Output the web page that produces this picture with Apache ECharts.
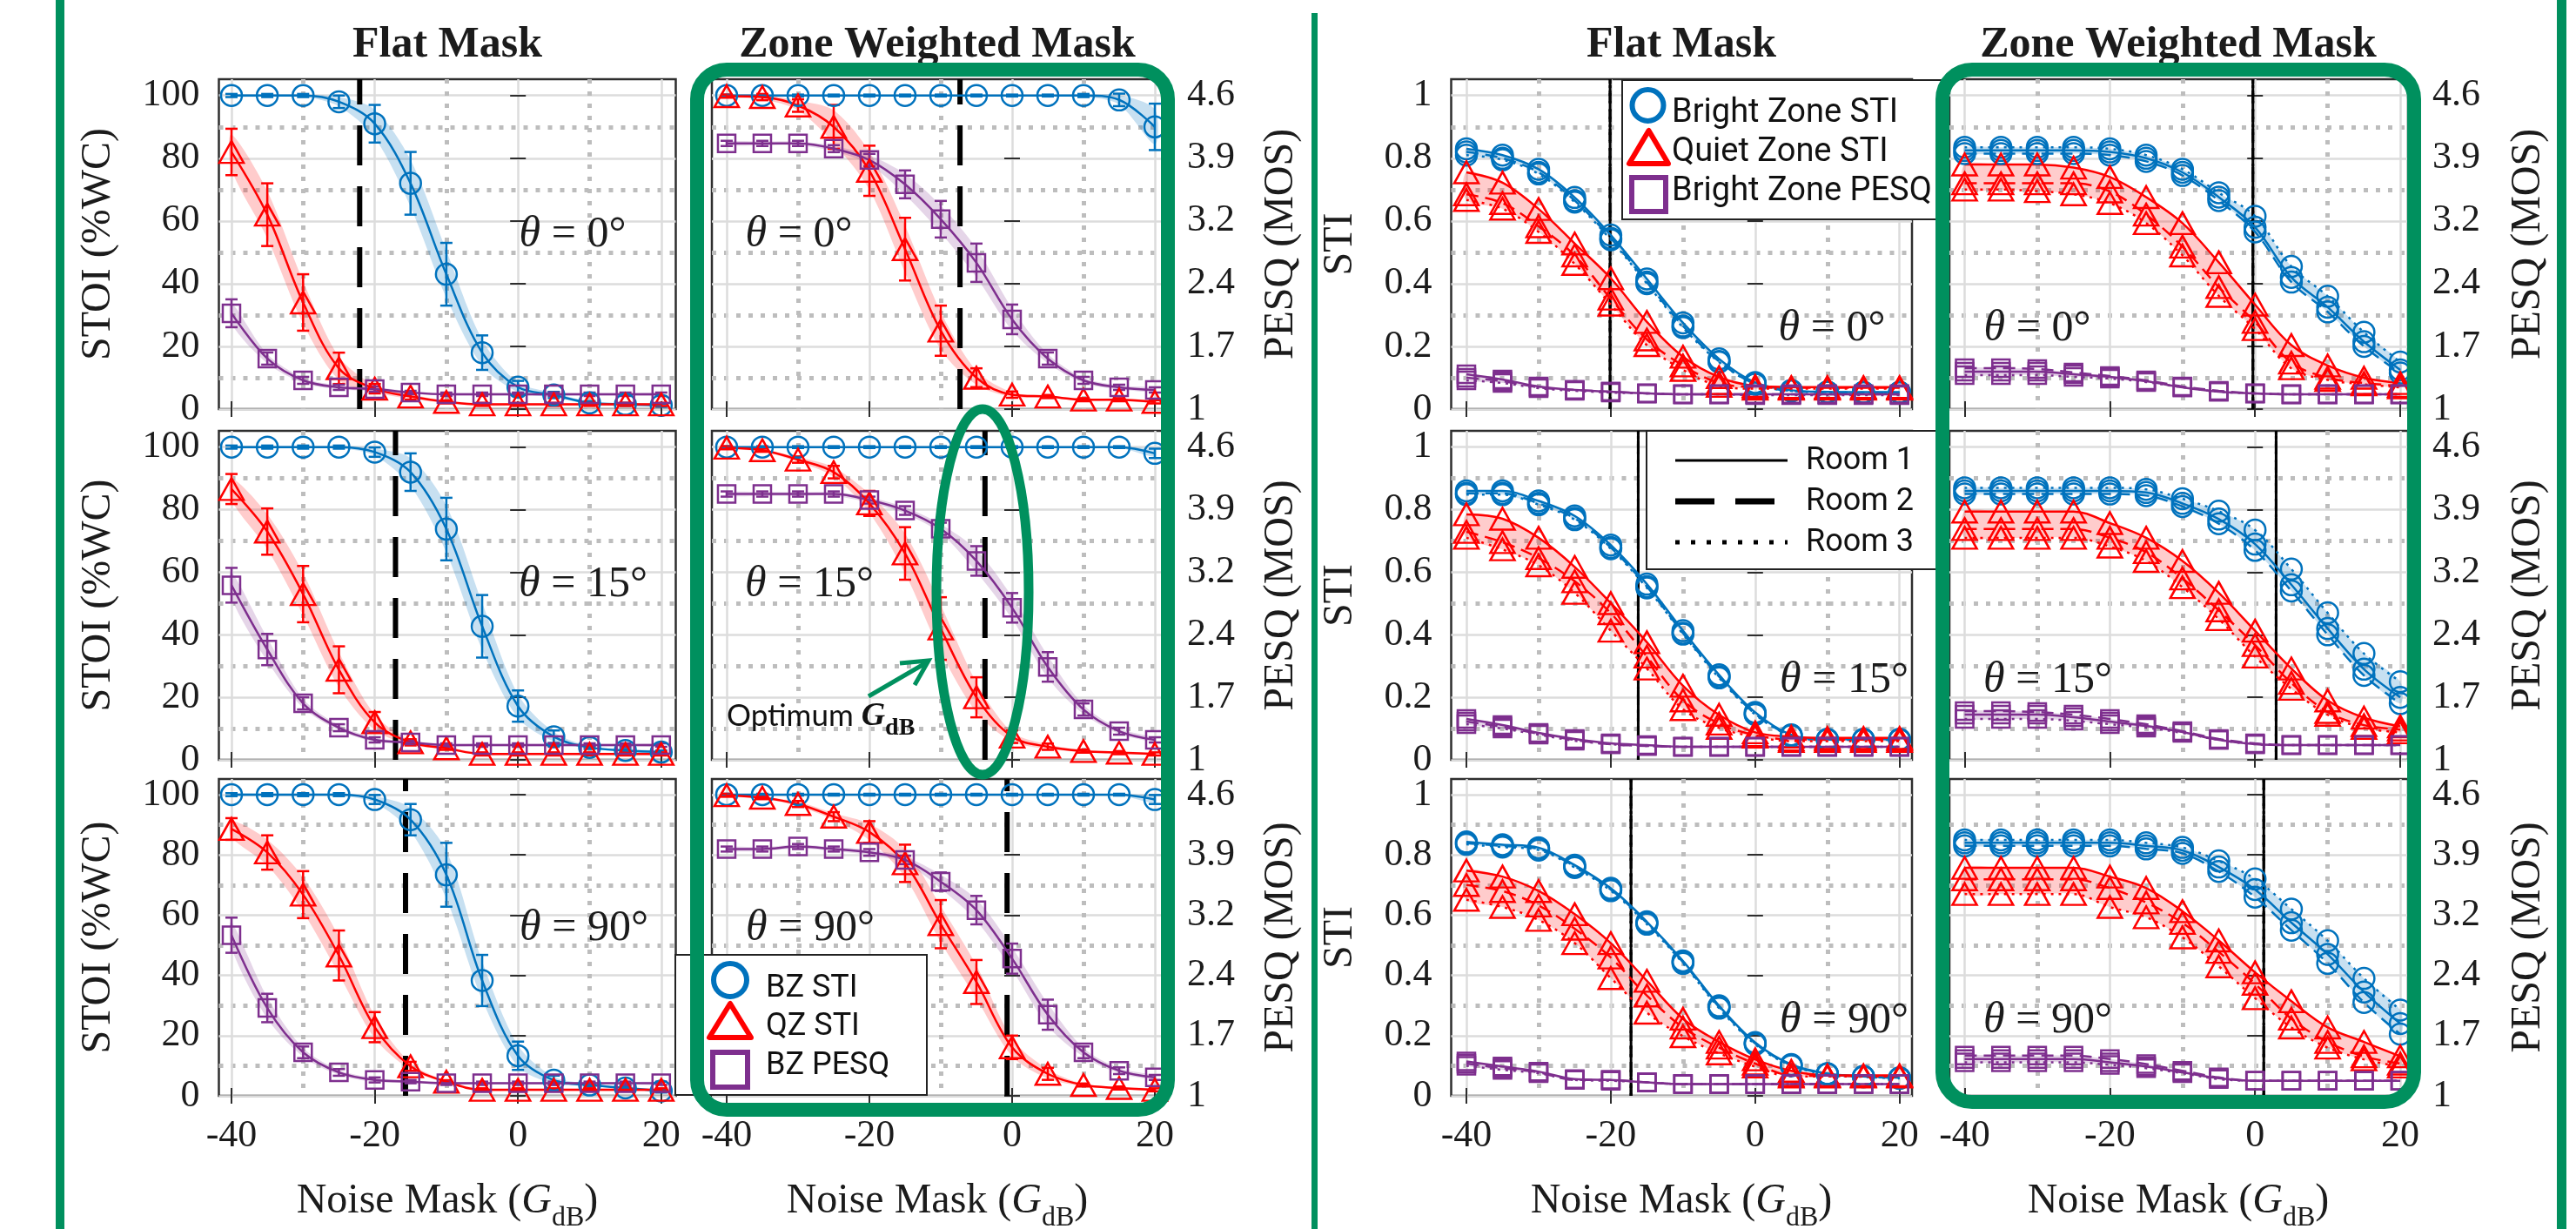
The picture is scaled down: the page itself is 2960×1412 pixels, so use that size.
<!DOCTYPE html>
<html>
<head>
<meta charset="utf-8">
<script src="https://cdn.jsdelivr.net/npm/echarts@6/dist/echarts.min.js"></script>
<style>
html, body { margin: 0; padding: 0; background: #fff; }
#chart { width: 2960px; height: 1412px; }
</style>
</head>
<body>
<div id="chart"></div>
<script>
// noise mask levels (dB) shared by every panel
var gdb = [-40, -35, -30, -25, -20, -15, -10, -5, 0, 5, 10, 15, 20];
var thetas = ['0°', '15°', '90°'];
var xTicks = [-40, -20, 0, 20], xMinor = [-30, -10, 10];
var stoiTicks = [0, 20, 40, 60, 80, 100], stoiMinor = [10, 30, 50, 70, 90];
var stiTicks = [0, 0.2, 0.4, 0.6, 0.8, 1], stiMinor = [0.1, 0.3, 0.5, 0.7, 0.9];
var pesqTicks = [1, 1.72, 2.44, 3.16, 3.88, 4.6];

// ---- left figure: STOI (%WC) and PESQ (MOS), mean and error half-width ----
var stoiFlat0Bz = [100, 100, 100, 98, 91, 72, 43, 18, 7, 4.5, 2, 1.5, 1.2];
var stoiFlat0BzErr = [0.5, 0.5, 0.5, 2, 6, 10, 10, 5.5, 2, 1, 0.5, 0.5, 0.5];
var stoiFlat0Qz = [82, 62, 34, 13, 6.5, 4, 2.3, 1.5, 1.5, 1.5, 1.5, 1.5, 1.5];
var stoiFlat0QzErr = [7.4, 10, 9, 5, 1.5, 1, 0.5, 0.5, 0.5, 0.5, 0.5, 0.5, 0.5];
var stoiFlat0Pesq = [2.10, 1.58, 1.33, 1.25, 1.23, 1.19, 1.17, 1.17, 1.17, 1.17, 1.17, 1.17, 1.17];
var stoiFlat0PesqErr = [0.16, 0.07, 0.04, 0.03, 0.03, 0.02, 0.02, 0.02, 0.02, 0.02, 0.02, 0.02, 0.02];

var stoiZone0Bz = [100, 100, 100, 100, 100, 100, 100, 100, 100, 100, 100, 98.6, 90];
var stoiZone0BzErr = [0.3, 0.3, 0.3, 0.3, 0.3, 0.3, 0.3, 0.3, 0.3, 0.3, 0.5, 2, 7.4];
var stoiZone0Qz = [99.8, 99.5, 96.8, 90, 76, 51, 25, 10, 4.6, 4, 3, 3, 2.3];
var stoiZone0QzErr = [0.5, 1, 2, 7, 8, 10, 8, 3, 1, 0.5, 0.5, 0.5, 0.5];
var stoiZone0Pesq = [4.05, 4.05, 4.05, 3.99, 3.86, 3.58, 3.18, 2.68, 2.03, 1.58, 1.33, 1.25, 1.22];
var stoiZone0PesqErr = [0.03, 0.03, 0.03, 0.04, 0.07, 0.16, 0.21, 0.22, 0.17, 0.07, 0.04, 0.03, 0.03];

var stoiFlat15Bz = [100, 100, 100, 100, 98.4, 92, 73.8, 42.7, 17.2, 7.4, 4, 3, 2.5];
var stoiFlat15BzErr = [0.5, 0.5, 0.5, 0.5, 1.5, 6, 10, 10, 5, 2, 0.5, 0.5, 0.5];
var stoiFlat15Qz = [86.6, 73, 53, 28.8, 12, 5.6, 3.7, 1.9, 1.9, 1.9, 1.9, 1.9, 1.9];
var stoiFlat15QzErr = [4.8, 7.4, 9, 7.5, 3.3, 1, 0.5, 0.5, 0.5, 0.5, 0.5, 0.5, 0.5];
var stoiFlat15Pesq = [3.01, 2.27, 1.65, 1.37, 1.23, 1.20, 1.17, 1.17, 1.17, 1.17, 1.17, 1.17, 1.17];
var stoiFlat15PesqErr = [0.2, 0.18, 0.07, 0.04, 0.03, 0.02, 0.02, 0.02, 0.02, 0.02, 0.02, 0.02, 0.02];

var stoiZone15Bz = [100, 100, 100, 100, 100, 100, 100, 100, 100, 100, 100, 100, 98];
var stoiZone15BzErr = [0.3, 0.3, 0.3, 0.3, 0.3, 0.3, 0.3, 0.3, 0.3, 0.3, 0.3, 0.3, 1.5];
var stoiZone15Qz = [99.8, 99, 96, 92, 82, 66, 42, 20, 7.4, 4.2, 2.8, 2.3, 1.9];
var stoiZone15QzErr = [0.5, 0.5, 1, 2, 4, 8.4, 10, 6.4, 2, 1, 0.5, 0.5, 0.5];
var stoiZone15Pesq = [4.06, 4.06, 4.06, 4.06, 3.99, 3.87, 3.66, 3.29, 2.75, 2.07, 1.58, 1.33, 1.23];
var stoiZone15PesqErr = [0.03, 0.03, 0.03, 0.03, 0.04, 0.05, 0.07, 0.17, 0.17, 0.17, 0.07, 0.04, 0.03];

var stoiFlat90Bz = [100, 100, 100, 100, 98.4, 91.7, 73.4, 38.3, 13.3, 5.2, 3.6, 2.6, 1.6];
var stoiFlat90BzErr = [0.5, 0.5, 0.5, 0.5, 1.5, 5.2, 10.6, 8.5, 4.7, 1.5, 0.5, 0.5, 0.5];
var stoiFlat90Qz = [88.6, 80.8, 66.8, 46.6, 22.8, 9.8, 4.7, 2, 2, 2, 2, 2, 2];
var stoiFlat90QzErr = [3.6, 5.7, 7.8, 8.3, 5, 1.5, 0.5, 0.5, 0.5, 0.5, 0.5, 0.5, 0.5];
var stoiFlat90Pesq = [2.92, 2.05, 1.52, 1.28, 1.19, 1.17, 1.15, 1.15, 1.15, 1.15, 1.15, 1.15, 1.15];
var stoiFlat90PesqErr = [0.21, 0.17, 0.07, 0.04, 0.03, 0.02, 0.02, 0.02, 0.02, 0.02, 0.02, 0.02, 0.02];

var stoiZone90Bz = [100, 100, 100, 100, 100, 100, 100, 100, 100, 100, 100, 100, 98.4];
var stoiZone90BzErr = [0.3, 0.3, 0.3, 0.3, 0.3, 0.3, 0.3, 0.3, 0.3, 0.3, 0.3, 0.3, 1.5];
var stoiZone90Qz = [99.8, 99, 96.9, 92.7, 87.6, 77.2, 57, 37.8, 16.1, 7.3, 3.6, 2.6, 2];
var stoiZone90QzErr = [0.5, 0.5, 1, 1.5, 3.6, 6.2, 8, 7.3, 3.9, 2, 0.5, 0.5, 0.5];
var stoiZone90Pesq = [3.95, 3.95, 3.98, 3.95, 3.91, 3.82, 3.56, 3.22, 2.64, 1.97, 1.52, 1.30, 1.22];
var stoiZone90PesqErr = [0.03, 0.03, 0.03, 0.03, 0.04, 0.05, 0.11, 0.17, 0.18, 0.18, 0.07, 0.04, 0.03];

var stoiFlatOpt = [-22.1, -17.1, -15.7];
var stoiZoneOpt = [-7.3, -3.8, -0.7];

// ---- right figure: STI and PESQ for rooms 1, 2, 3 ----
var stiFlat0Bz = [
  [0.83, 0.81, 0.765, 0.675, 0.555, 0.415, 0.275, 0.16, 0.085, 0.06, 0.055, 0.054, 0.054],
  [0.82, 0.80, 0.755, 0.665, 0.545, 0.405, 0.265, 0.152, 0.08, 0.058, 0.054, 0.053, 0.053],
  [0.81, 0.795, 0.75, 0.66, 0.54, 0.40, 0.26, 0.15, 0.08, 0.058, 0.054, 0.053, 0.053]];
var stiFlat0Qz = [
  [0.755, 0.722, 0.638, 0.528, 0.417, 0.278, 0.167, 0.102, 0.074, 0.07, 0.07, 0.07, 0.07],
  [0.685, 0.657, 0.583, 0.49, 0.352, 0.222, 0.139, 0.083, 0.07, 0.068, 0.068, 0.068, 0.068],
  [0.667, 0.639, 0.565, 0.463, 0.333, 0.204, 0.125, 0.074, 0.065, 0.065, 0.065, 0.065, 0.065]];
var stiFlat0Pesq = [
  [1.40, 1.34, 1.26, 1.22, 1.20, 1.18, 1.17, 1.17, 1.17, 1.17, 1.17, 1.17, 1.17],
  [1.36, 1.32, 1.25, 1.22, 1.20, 1.18, 1.17, 1.17, 1.17, 1.17, 1.17, 1.17, 1.17],
  [1.33, 1.30, 1.24, 1.21, 1.19, 1.18, 1.17, 1.17, 1.16, 1.16, 1.16, 1.16, 1.16]];

var stiZone0Bz = [
  [0.825, 0.825, 0.825, 0.825, 0.82, 0.80, 0.755, 0.676, 0.58, 0.42, 0.325, 0.215, 0.125],
  [0.815, 0.815, 0.815, 0.815, 0.81, 0.79, 0.745, 0.665, 0.565, 0.405, 0.31, 0.2, 0.115],
  [0.835, 0.835, 0.835, 0.835, 0.83, 0.81, 0.765, 0.69, 0.615, 0.455, 0.36, 0.245, 0.15]];
var stiZone0Qz = [
  [0.78, 0.78, 0.78, 0.77, 0.74, 0.676, 0.593, 0.468, 0.333, 0.204, 0.139, 0.10, 0.083],
  [0.72, 0.72, 0.72, 0.72, 0.694, 0.62, 0.518, 0.389, 0.278, 0.148, 0.10, 0.083, 0.074],
  [0.70, 0.70, 0.695, 0.685, 0.657, 0.593, 0.49, 0.361, 0.255, 0.13, 0.093, 0.079, 0.069]];
var stiZone0Pesq = [
  [1.43, 1.43, 1.43, 1.40, 1.37, 1.32, 1.25, 1.20, 1.18, 1.17, 1.17, 1.17, 1.17],
  [1.47, 1.47, 1.46, 1.42, 1.38, 1.33, 1.26, 1.21, 1.18, 1.17, 1.17, 1.17, 1.17],
  [1.39, 1.39, 1.39, 1.37, 1.35, 1.31, 1.25, 1.20, 1.18, 1.17, 1.17, 1.17, 1.17]];

var stiFlat15Bz = [
  [0.86, 0.86, 0.828, 0.78, 0.687, 0.562, 0.413, 0.272, 0.152, 0.08, 0.066, 0.066, 0.066],
  [0.852, 0.852, 0.82, 0.772, 0.679, 0.554, 0.405, 0.266, 0.147, 0.078, 0.065, 0.065, 0.065],
  [0.848, 0.848, 0.816, 0.768, 0.675, 0.55, 0.402, 0.262, 0.145, 0.077, 0.064, 0.064, 0.064]];
var stiFlat15Qz = [
  [0.785, 0.771, 0.71, 0.617, 0.501, 0.376, 0.237, 0.144, 0.088, 0.074, 0.07, 0.07, 0.07],
  [0.729, 0.696, 0.645, 0.571, 0.469, 0.33, 0.19, 0.116, 0.079, 0.065, 0.065, 0.065, 0.065],
  [0.71, 0.673, 0.622, 0.534, 0.413, 0.292, 0.162, 0.102, 0.074, 0.06, 0.06, 0.06, 0.06]];
var stiFlat15Pesq = [
  [1.47, 1.40, 1.31, 1.24, 1.19, 1.17, 1.15, 1.15, 1.15, 1.15, 1.15, 1.15, 1.15],
  [1.44, 1.38, 1.30, 1.23, 1.18, 1.16, 1.15, 1.15, 1.15, 1.15, 1.15, 1.15, 1.15],
  [1.41, 1.36, 1.29, 1.22, 1.18, 1.16, 1.15, 1.15, 1.15, 1.15, 1.15, 1.15, 1.15]];

var stiZone15Bz = [
  [0.86, 0.86, 0.86, 0.86, 0.86, 0.855, 0.82, 0.77, 0.69, 0.56, 0.42, 0.29, 0.20],
  [0.85, 0.85, 0.85, 0.85, 0.85, 0.845, 0.81, 0.755, 0.67, 0.54, 0.40, 0.27, 0.18],
  [0.87, 0.87, 0.87, 0.87, 0.87, 0.865, 0.835, 0.795, 0.735, 0.61, 0.47, 0.34, 0.25]];
var stiZone15Qz = [
  [0.794, 0.794, 0.794, 0.794, 0.757, 0.71, 0.636, 0.534, 0.413, 0.292, 0.19, 0.135, 0.107],
  [0.738, 0.738, 0.738, 0.738, 0.71, 0.664, 0.58, 0.478, 0.367, 0.246, 0.153, 0.111, 0.097],
  [0.71, 0.71, 0.71, 0.71, 0.682, 0.636, 0.552, 0.45, 0.33, 0.227, 0.144, 0.102, 0.088]];
var stiZone15Pesq = [
  [1.52, 1.52, 1.52, 1.49, 1.44, 1.39, 1.32, 1.23, 1.18, 1.17, 1.17, 1.17, 1.17],
  [1.56, 1.56, 1.55, 1.52, 1.47, 1.41, 1.33, 1.24, 1.19, 1.17, 1.17, 1.17, 1.17],
  [1.47, 1.47, 1.47, 1.45, 1.41, 1.37, 1.31, 1.23, 1.18, 1.17, 1.17, 1.17, 1.17]];

var stiFlat90Bz = [
  [0.843, 0.834, 0.824, 0.766, 0.689, 0.578, 0.448, 0.299, 0.177, 0.104, 0.074, 0.065, 0.06],
  [0.839, 0.83, 0.82, 0.762, 0.685, 0.574, 0.444, 0.295, 0.174, 0.102, 0.073, 0.064, 0.059],
  [0.835, 0.826, 0.816, 0.758, 0.681, 0.57, 0.44, 0.291, 0.171, 0.1, 0.072, 0.063, 0.058]];
var stiFlat90Qz = [
  [0.748, 0.728, 0.68, 0.603, 0.507, 0.382, 0.256, 0.179, 0.121, 0.083, 0.068, 0.068, 0.068],
  [0.70, 0.68, 0.632, 0.555, 0.459, 0.333, 0.227, 0.16, 0.107, 0.068, 0.066, 0.066, 0.066],
  [0.651, 0.627, 0.584, 0.507, 0.391, 0.276, 0.198, 0.141, 0.097, 0.064, 0.064, 0.064, 0.064]];
var stiFlat90Pesq = [
  [1.41, 1.35, 1.29, 1.20, 1.19, 1.16, 1.14, 1.14, 1.14, 1.14, 1.14, 1.14, 1.14],
  [1.385, 1.33, 1.28, 1.19, 1.19, 1.16, 1.14, 1.14, 1.14, 1.14, 1.14, 1.14, 1.14],
  [1.36, 1.31, 1.27, 1.19, 1.18, 1.16, 1.14, 1.14, 1.14, 1.14, 1.14, 1.14, 1.14]];

var stiZone90Bz = [
  [0.84, 0.84, 0.84, 0.84, 0.84, 0.83, 0.815, 0.76, 0.685, 0.575, 0.47, 0.345, 0.24],
  [0.83, 0.83, 0.83, 0.83, 0.83, 0.82, 0.805, 0.745, 0.66, 0.55, 0.44, 0.31, 0.205],
  [0.85, 0.85, 0.85, 0.85, 0.85, 0.84, 0.825, 0.78, 0.72, 0.62, 0.515, 0.39, 0.285]];
var stiZone90Qz = [
  [0.757, 0.757, 0.757, 0.757, 0.728, 0.69, 0.613, 0.516, 0.41, 0.314, 0.227, 0.179, 0.131],
  [0.719, 0.719, 0.719, 0.719, 0.69, 0.642, 0.574, 0.478, 0.372, 0.256, 0.179, 0.131, 0.107],
  [0.67, 0.67, 0.67, 0.67, 0.627, 0.593, 0.526, 0.43, 0.324, 0.227, 0.16, 0.121, 0.097]];
var stiZone90Pesq = [
  [1.44, 1.44, 1.44, 1.44, 1.40, 1.35, 1.28, 1.21, 1.18, 1.18, 1.18, 1.18, 1.18],
  [1.48, 1.48, 1.48, 1.48, 1.44, 1.38, 1.30, 1.22, 1.18, 1.18, 1.18, 1.18, 1.18],
  [1.40, 1.40, 1.40, 1.40, 1.37, 1.33, 1.27, 1.20, 1.18, 1.18, 1.18, 1.18, 1.18]];

var stiFlatOpt = [-20.1, -16.2, -17.2];
var stiZoneOpt = [-0.3, 2.9, 1.2];

// ---- styling / layout ----
var blue = '#0072BD', red = '#FF0000', purple = '#7E2F8E', green = '#00905e';
var blueBand = 'rgba(0,114,189,0.22)', redBand = 'rgba(255,0,0,0.2)', purpleBand = 'rgba(126,47,142,0.2)';
var ink = '#1b1b1b', frame = '#2e2e2e';
var serif = 'Liberation Serif', sans = 'Roboto';
var majorLine = { color: '#dcdcdc', width: 2.5 };
var minorLine = { color: '#bdbdbd', width: 5, type: [5, 9] };
var rowBox = [[91, 379], [495, 378], [895, 364]];
// left, width, x min, x max
var colBox = [[251.5, 525, -41.76, 22.03], [818, 518, -42.07, 21.1],
              [1667.5, 529.5, -42.11, 21.72], [2240, 527, -42.1, 21.07]];
var roomDash = ['solid', [14, 8], [3, 6]];

var option = { animation: false, backgroundColor: '#fff', grid: [], xAxis: [], yAxis: [], series: [], graphic: [] };

function tickCfg(vals, show) {
  return { show: show !== false, inside: true, length: 9, customValues: vals, lineStyle: { color: frame, width: 2 } };
}
function fmtPesq(v) { return v === 1 ? '1' : v.toFixed(1); }

function addPanel(r, c, stoi) {
  var g = option.grid.length, cb = colBox[c], rb = rowBox[r];
  option.grid.push({ left: cb[0], top: rb[0], width: cb[1], height: rb[1], show: true,
    borderColor: frame, borderWidth: 2.5, backgroundColor: 'transparent' });
  var xi = option.xAxis.length;
  var xb = { gridIndex: g, type: 'value', min: cb[2], max: cb[3], axisLine: { show: false } };
  option.xAxis.push(Object.assign({}, xb, { position: 'bottom', axisTick: tickCfg(xTicks),
    axisLabel: { show: r === 2, customValues: xTicks, fontFamily: serif, fontSize: 44, color: ink, margin: 24 },
    splitLine: { show: true, lineStyle: majorLine } }));
  option.xAxis.push(Object.assign({}, xb, { position: 'top', axisTick: tickCfg(xTicks),
    axisLabel: { show: false }, splitLine: { show: false } }));
  option.xAxis.push(Object.assign({}, xb, { position: 'bottom', axisTick: tickCfg(xMinor, false),
    axisLabel: { show: false }, splitLine: { show: true, lineStyle: minorLine } }));
  var yi = option.yAxis.length;
  var ticks = stoi ? stoiTicks : stiTicks, minor = stoi ? stoiMinor : stiMinor;
  var ymax = stoi ? 105.2 : 1.052;
  var firstCol = (c === 0 || c === 2);
  option.yAxis.push({ gridIndex: g, type: 'value', position: 'left', min: 0, max: ymax,
    axisLine: { show: false }, axisTick: tickCfg(ticks),
    axisLabel: { show: firstCol, customValues: ticks, fontFamily: serif, fontSize: 44, color: ink, margin: 22 },
    splitLine: { show: true, lineStyle: majorLine } });
  option.yAxis.push({ gridIndex: g, type: 'value', position: 'right', min: 1,
    max: 1 + 3.6 * (stoi ? ymax / 100 : ymax),
    axisLine: { show: false }, axisTick: tickCfg(pesqTicks),
    axisLabel: { show: !firstCol, customValues: pesqTicks, formatter: fmtPesq, fontFamily: serif, fontSize: 44, color: ink, margin: 28 },
    splitLine: { show: false } });
  option.yAxis.push({ gridIndex: g, type: 'value', position: 'left', min: 0, max: ymax,
    axisLine: { show: false }, axisTick: tickCfg(minor, false), axisLabel: { show: false },
    splitLine: { show: true, lineStyle: minorLine } });
  return { x: xi, yl: yi, yr: yi + 1, ymax: ymax };
}

function curve(xi, yi, vals, color, sym, size, dash) {
  return { type: 'line', xAxisIndex: xi, yAxisIndex: yi, silent: true, z: 3,
    data: gdb.map(function (x, i) { return [x, vals[i]]; }),
    smooth: 0.35, symbol: sym, symbolSize: size, showAllSymbol: true,
    itemStyle: { color: 'rgba(255,255,255,0)', borderColor: color, borderWidth: 2.5 },
    lineStyle: { color: color, width: 2.5, type: dash } };
}

function band(xi, yi, lo, hi, fill) {
  var pts = gdb.map(function (x, i) { return [x, lo[i], hi[i]]; });
  return { type: 'custom', xAxisIndex: xi, yAxisIndex: yi, silent: true, z: 1, clip: true,
    data: pts, encode: { x: 0, y: [1, 2] },
    renderItem: function (params, api) {
      if (params.dataIndex !== 0) return null;
      var top = pts.map(function (p) { return api.coord([p[0], p[2]]); });
      var bot = pts.map(function (p) { return api.coord([p[0], p[1]]); }).reverse();
      return { type: 'polygon', shape: { points: top.concat(bot), smooth: 0.3 }, style: { fill: fill } };
    } };
}

function errBars(xi, yi, vals, errs, color) {
  return { type: 'custom', xAxisIndex: xi, yAxisIndex: yi, silent: true, z: 3,
    data: gdb.map(function (x, i) { return [x, vals[i], errs[i]]; }), encode: { x: 0, y: 1 },
    renderItem: function (params, api) {
      var x = api.value(0), y = api.value(1), e = api.value(2);
      var lo = api.coord([x, y - e]), hi = api.coord([x, y + e]), w = 7;
      var st = { stroke: color, lineWidth: 2.5 };
      return { type: 'group', children: [
        { type: 'line', shape: { x1: lo[0], y1: lo[1], x2: hi[0], y2: hi[1] }, style: st },
        { type: 'line', shape: { x1: lo[0] - w, y1: lo[1], x2: lo[0] + w, y2: lo[1] }, style: st },
        { type: 'line', shape: { x1: hi[0] - w, y1: hi[1], x2: hi[0] + w, y2: hi[1] }, style: st }] };
    } };
}

function optLine(ax, x, style) {
  return { type: 'line', xAxisIndex: ax.x, yAxisIndex: ax.yl, silent: true, z: 2, symbol: 'none',
    data: [[x, 0], [x, ax.ymax]], lineStyle: style };
}

function stoiPanel(r, c, d, opt) {
  var ax = addPanel(r, c, true);
  var metrics = [[d[0], d[1], blue, blueBand, 'circle', 24, ax.yl],
                 [d[2], d[3], red, redBand, 'triangle', [28, 25], ax.yl],
                 [d[4], d[5], purple, purpleBand, 'rect', 20, ax.yr]];
  metrics.forEach(function (m) {
    var lo = m[0].map(function (v, i) { return v - 0.75 * m[1][i]; });
    var hi = m[0].map(function (v, i) { return v + 0.75 * m[1][i]; });
    option.series.push(band(ax.x, m[6], lo, hi, m[3]));
  });
  option.series.push(optLine(ax, opt, { color: '#000', width: 6, type: [46, 24] }));
  metrics.forEach(function (m) {
    option.series.push(errBars(ax.x, m[6], m[0], m[1], m[2]));
    option.series.push(curve(ax.x, m[6], m[0], m[2], m[4], m[5], 'solid'));
  });
}

function stiPanel(r, c, d, opt) {
  var ax = addPanel(r, c, false);
  var metrics = [[d[0], blue, blueBand, 'circle', 24, ax.yl],
                 [d[1], red, redBand, 'triangle', [28, 25], ax.yl],
                 [d[2], purple, purpleBand, 'rect', 20, ax.yr]];
  metrics.forEach(function (m) {
    var rooms = m[0];
    var lo = gdb.map(function (x, i) { return Math.min(rooms[0][i], rooms[1][i], rooms[2][i]); });
    var hi = gdb.map(function (x, i) { return Math.max(rooms[0][i], rooms[1][i], rooms[2][i]); });
    option.series.push(band(ax.x, m[5], lo, hi, m[2]));
  });
  roomDash.forEach(function (dash) {
    option.series.push(optLine(ax, opt, { color: '#000', width: 3, type: dash }));
  });
  metrics.forEach(function (m) {
    m[0].forEach(function (vals, k) {
      option.series.push(curve(ax.x, m[5], vals, m[1], m[3], m[4], roomDash[k]));
    });
  });
}

stoiPanel(0, 0, [stoiFlat0Bz, stoiFlat0BzErr, stoiFlat0Qz, stoiFlat0QzErr, stoiFlat0Pesq, stoiFlat0PesqErr], stoiFlatOpt[0]);
stoiPanel(0, 1, [stoiZone0Bz, stoiZone0BzErr, stoiZone0Qz, stoiZone0QzErr, stoiZone0Pesq, stoiZone0PesqErr], stoiZoneOpt[0]);
stoiPanel(1, 0, [stoiFlat15Bz, stoiFlat15BzErr, stoiFlat15Qz, stoiFlat15QzErr, stoiFlat15Pesq, stoiFlat15PesqErr], stoiFlatOpt[1]);
stoiPanel(1, 1, [stoiZone15Bz, stoiZone15BzErr, stoiZone15Qz, stoiZone15QzErr, stoiZone15Pesq, stoiZone15PesqErr], stoiZoneOpt[1]);
stoiPanel(2, 0, [stoiFlat90Bz, stoiFlat90BzErr, stoiFlat90Qz, stoiFlat90QzErr, stoiFlat90Pesq, stoiFlat90PesqErr], stoiFlatOpt[2]);
stoiPanel(2, 1, [stoiZone90Bz, stoiZone90BzErr, stoiZone90Qz, stoiZone90QzErr, stoiZone90Pesq, stoiZone90PesqErr], stoiZoneOpt[2]);

stiPanel(0, 2, [stiFlat0Bz, stiFlat0Qz, stiFlat0Pesq], stiFlatOpt[0]);
stiPanel(0, 3, [stiZone0Bz, stiZone0Qz, stiZone0Pesq], stiZoneOpt[0]);
stiPanel(1, 2, [stiFlat15Bz, stiFlat15Qz, stiFlat15Pesq], stiFlatOpt[1]);
stiPanel(1, 3, [stiZone15Bz, stiZone15Qz, stiZone15Pesq], stiZoneOpt[1]);
stiPanel(2, 2, [stiFlat90Bz, stiFlat90Qz, stiFlat90Pesq], stiFlatOpt[2]);
stiPanel(2, 3, [stiZone90Bz, stiZone90Qz, stiZone90Pesq], stiZoneOpt[2]);

// ---- text and decorations ----
function label(x, y, text, style, rot, align) {
  option.graphic.push({ type: 'text', x: x, y: y, rotation: rot || 0, z: 100, silent: true,
    style: Object.assign({ text: text, fill: ink, align: align || 'center', verticalAlign: 'middle' }, style) });
}
function shape(el) { el.z = 100; el.silent = true; option.graphic.push(el); }

var titleFont = { fontFamily: serif, fontWeight: 'bold', fontSize: 50 };
label(514, 52, 'Flat Mask', titleFont);
label(1077, 52, 'Zone Weighted Mask', titleFont);
label(1932, 52, 'Flat Mask', titleFont);
label(2503, 52, 'Zone Weighted Mask', titleFont);

var nameFont = { fontFamily: serif, fontSize: 48 };
rowBox.forEach(function (rb) {
  var cy = rb[0] + rb[1] / 2;
  label(113, cy, 'STOI (%WC)', nameFont, Math.PI / 2);
  label(1472, cy, 'PESQ (MOS)', nameFont, Math.PI / 2);
  label(1540, cy, 'STI', nameFont, Math.PI / 2);
  label(2905, cy, 'PESQ (MOS)', nameFont, Math.PI / 2);
});

var xNameRich = {
  n: { fontFamily: serif, fontSize: 48, lineHeight: 72 },
  g: { fontFamily: serif, fontSize: 48, fontStyle: 'italic', lineHeight: 72 },
  s: { fontFamily: serif, fontSize: 32, verticalAlign: 'bottom' }
};
[514, 1077, 1932, 2503].forEach(function (cx) {
  label(cx, 1380, '{n|Noise Mask (}{g|G}{s|dB}{n|)}', { rich: xNameRich });
});

var thetaRich = { i: { fontFamily: serif, fontSize: 50, fontStyle: 'italic' }, n: { fontFamily: serif, fontSize: 50 } };
var thetaPos = [[[658, 270], [918, 270], [2105, 378], [2341, 378]],
                [[670, 672], [930, 672], [2119, 782], [2353, 782]],
                [[671, 1067], [931, 1067], [2119, 1173], [2353, 1173]]];
thetaPos.forEach(function (row, r) {
  row.forEach(function (p) {
    label(p[0], p[1], '{i|θ}{n| = ' + thetas[r] + '}', { rich: thetaRich });
  });
});

// green highlight marks
shape({ type: 'rect', shape: { x: 64, y: 0, width: 10, height: 1412 }, style: { fill: green } });
shape({ type: 'rect', shape: { x: 1507, y: 15, width: 7, height: 1397 }, style: { fill: green } });
shape({ type: 'rect', shape: { x: 2938, y: 0, width: 11, height: 1412 }, style: { fill: green } });

// left legend
shape({ type: 'rect', shape: { x: 776, y: 1097, width: 289, height: 161 }, style: { fill: '#fff', stroke: '#222', lineWidth: 2 } });
shape({ type: 'circle', shape: { cx: 839, cy: 1126, r: 19 }, style: { fill: 'none', stroke: blue, lineWidth: 6 } });
shape({ type: 'polygon', shape: { points: [[839, 1153], [815, 1192], [863, 1192]] }, style: { fill: 'none', stroke: red, lineWidth: 6, lineJoin: 'round' } });
shape({ type: 'rect', shape: { x: 819, y: 1209, width: 40, height: 40 }, style: { fill: 'none', stroke: purple, lineWidth: 6 } });
var legFont = { fontFamily: sans, fontSize: 36, fill: '#111' };
label(880, 1136, 'BZ STI', legFont, 0, 'left');
label(880, 1180, 'QZ STI', legFont, 0, 'left');
label(880, 1225, 'BZ PESQ', legFont, 0, 'left');

// right legend (metrics)
shape({ type: 'rect', shape: { x: 1864, y: 92, width: 368, height: 160 }, style: { fill: '#fff', stroke: '#222', lineWidth: 2 } });
shape({ type: 'circle', shape: { cx: 1893.5, cy: 121, r: 18 }, style: { fill: 'none', stroke: blue, lineWidth: 6 } });
shape({ type: 'polygon', shape: { points: [[1894.5, 150], [1872, 188], [1917, 188]] }, style: { fill: 'none', stroke: red, lineWidth: 6, lineJoin: 'round' } });
shape({ type: 'rect', shape: { x: 1875, y: 204, width: 39, height: 39 }, style: { fill: 'none', stroke: purple, lineWidth: 6 } });
var legFont2 = { fontFamily: sans, fontSize: 38, fill: '#111' };
label(1921, 130, 'Bright Zone STI', legFont2, 0, 'left');
label(1921, 175, 'Quiet Zone STI', legFont2, 0, 'left');
label(1921, 220, 'Bright Zone PESQ', legFont2, 0, 'left');

// room legend
shape({ type: 'rect', shape: { x: 1892, y: 495, width: 340, height: 159 }, style: { fill: '#fff', stroke: '#222', lineWidth: 2 } });
shape({ type: 'line', shape: { x1: 1925, y1: 529, x2: 2054, y2: 529 }, style: { stroke: '#000', lineWidth: 3 } });
shape({ type: 'line', shape: { x1: 1925, y1: 576, x2: 2054, y2: 576 }, style: { stroke: '#000', lineWidth: 7, lineDash: [45, 24] } });
shape({ type: 'line', shape: { x1: 1925, y1: 623, x2: 2054, y2: 623 }, style: { stroke: '#000', lineWidth: 5, lineDash: [5, 13] } });
label(2075, 530, 'Room 1', legFont, 0, 'left');
label(2075, 577, 'Room 2', legFont, 0, 'left');
label(2075, 624, 'Room 3', legFont, 0, 'left');

// rounded highlight boxes, ellipse and arrow
shape({ type: 'rect', shape: { x: 801, y: 80, width: 541, height: 1195, r: 34 }, style: { fill: 'none', stroke: green, lineWidth: 16 } });
shape({ type: 'rect', shape: { x: 2232, y: 80, width: 542, height: 1186, r: 34 }, style: { fill: 'none', stroke: green, lineWidth: 16 } });
shape({ type: 'ellipse', shape: { cx: 1129, cy: 680, rx: 53, ry: 210 }, style: { fill: 'none', stroke: green, lineWidth: 11 } });
shape({ type: 'line', shape: { x1: 998, y1: 800, x2: 1065, y2: 761 }, style: { stroke: green, lineWidth: 5 } });
shape({ type: 'polyline', shape: { points: [[1034, 762], [1067, 759], [1051, 787]] }, style: { fill: 'none', stroke: green, lineWidth: 5 } });
label(835, 823, '{n|Optimum }{g|G}{s|dB}', { rich: {
  n: { fontFamily: 'Lato', fontSize: 35, fill: '#111' },
  g: { fontFamily: serif, fontSize: 38, fontWeight: 'bold', fontStyle: 'italic', fill: '#111' },
  s: { fontFamily: serif, fontSize: 28, fontWeight: 'bold', fill: '#111', verticalAlign: 'bottom', lineHeight: 56 } } }, 0, 'left');

var chart = echarts.init(document.getElementById('chart'), null, { renderer: 'canvas' });
chart.setOption(option);
</script>
</body>
</html>
